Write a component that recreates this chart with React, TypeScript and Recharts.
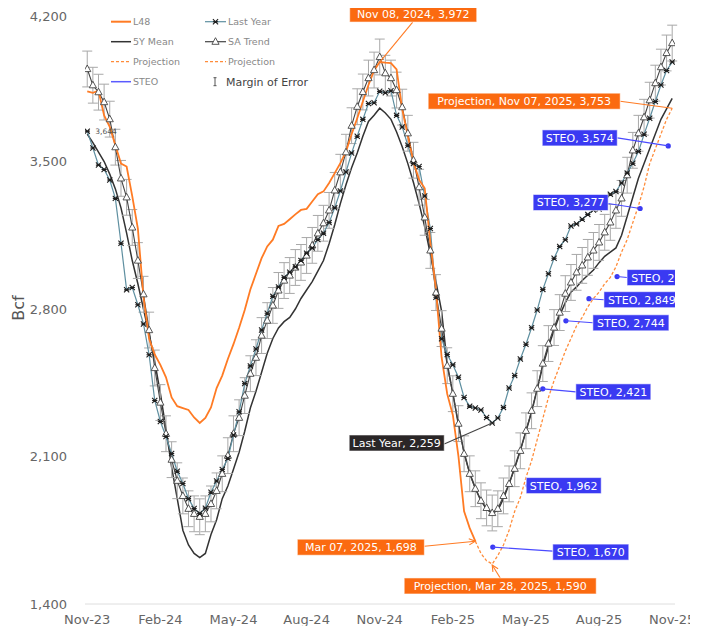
import { ComposedChart, Line, XAxis, YAxis, ErrorBar, Scatter, ReferenceDot } from "recharts";

// x is a week index: 0 = week ending Nov 10, 2023, 104 = week ending Nov 7, 2025
const weekTicks = [0, 13, 26, 39, 52, 65, 78, 91, 104];
const weekTickLabels = ["Nov-23", "Feb-24", "May-24", "Aug-24", "Nov-24", "Feb-25", "May-25", "Aug-25", "Nov-25"];
const bcfTicks = [1400, 2100, 2800, 3500, 4200];

// Lower 48 working gas, weeks 0..69 (ends Mar 07, 2025)
const l48 = [
  3833, 3826, 3836, 3719, 3664, 3577, 3490, 3476, 3336, 3182,
  2856, 2659, 2584, 2535, 2476, 2380, 2339, 2330, 2321, 2285,
  2259, 2283, 2333, 2425, 2484, 2563, 2633, 2711, 2795, 2893,
  2967, 3041, 3097, 3129, 3194, 3204, 3226, 3249, 3270, 3275,
  3310, 3345, 3358, 3398, 3445, 3492, 3547, 3629, 3705, 3785,
  3863, 3932, 3972, 3969, 3967, 3937, 3747, 3622, 3497, 3413,
  3373, 3115, 2892, 2571, 2397, 2297, 2101, 1840, 1760, 1698,
];

const lastYear = [
  3644, 3564, 3483, 3462, 3412, 3325, 3112, 2891, 2902, 2820,
  2729, 2583, 2366, 2266, 2195, 2114, 2030, 1972, 1900, 1853,
  1830, 1855, 1930, 1984, 2038, 2092, 2202, 2312, 2446, 2530,
  2610, 2700, 2780, 2860, 2905, 2950, 2975, 3000, 3030, 3065,
  3090, 3130, 3160, 3210, 3280, 3360, 3450, 3540, 3620, 3700,
  3775, 3779, 3833, 3826, 3836, 3719, 3664, 3577, 3490, 3476,
  3336, 3182, 2856, 2659, 2584, 2535, 2476, 2380, 2339, 2330,
  2321, 2285, 2259, 2283, 2333, 2425, 2484, 2563, 2633, 2711,
  2795, 2893, 2967, 3041, 3097, 3129, 3194, 3204, 3226, 3249,
  3270, 3275, 3310, 3345, 3358, 3398, 3445, 3492, 3547, 3629,
  3705, 3785, 3863, 3932, 3972,
];

const fiveYearMean = [
  3630, 3590, 3545, 3500, 3440, 3370, 3280, 3160, 3030, 2920,
  2800, 2680, 2550, 2400, 2230, 2050, 1900, 1750, 1680, 1640,
  1620, 1640, 1730, 1800, 1900, 1960, 2040, 2120, 2220, 2330,
  2410, 2500, 2590, 2660, 2710, 2740, 2760, 2800, 2850, 2890,
  2930, 2980, 3030, 3110, 3200, 3300, 3390, 3470, 3540, 3620,
  3690, 3720, 3753, 3730, 3700, 3640, 3570, 3490, 3400, 3300,
  3190, 3060, 2930, 2790, 2540, 2400, 2250, 2120, 2020, 1950,
  1890, 1850, 1830, 1845, 1900, 1970, 2050, 2130, 2220, 2310,
  2420, 2530, 2620, 2700, 2770, 2830, 2880, 2905, 2935, 2960,
  2985, 3020, 3050, 3070, 3090, 3150, 3240, 3330, 3420, 3490,
  3560, 3630, 3700, 3750, 3800,
];

const saTrend = [
  3939, 3862, 3829, 3782, 3701, 3568, 3420, 3330, 3187, 3030,
  2870, 2700, 2520, 2356, 2208, 2085, 1985, 1913, 1852, 1828,
  1814, 1828, 1875, 1937, 2018, 2104, 2208, 2284, 2389, 2493,
  2569, 2674, 2745, 2817, 2888, 2935, 2959, 2997, 3021, 3054,
  3102, 3159, 3207, 3268, 3363, 3449, 3544, 3670, 3760, 3830,
  3896, 3934, 3996, 3919, 3896, 3839, 3758, 3634, 3506, 3378,
  3235, 3078, 2878, 2707, 2531, 2398, 2256, 2113, 2018, 1947,
  1890, 1856, 1832, 1852, 1913, 1970, 2042, 2127, 2222, 2317,
  2422, 2541, 2636, 2712, 2783, 2873, 2926, 2974, 3007, 3045,
  3078, 3116, 3164, 3211, 3268, 3325, 3435, 3553, 3634, 3710,
  3791, 3872, 3948, 4015, 4062,
];
const saMargin = 85;

// Projection, weeks 69..104 (Mar 07, 2025 .. Nov 07, 2025)
const projectionStart = 69;
const projection = [
  1698, 1640, 1605, 1590, 1630, 1680, 1750, 1840, 1905, 2000,
  2080, 2180, 2280, 2380, 2460, 2530, 2600, 2660, 2720, 2760,
  2810, 2850, 2880, 2920, 2950, 3000, 3070, 3130, 3210, 3290,
  3380, 3490, 3560, 3630, 3700, 3753,
];

const steoWeeks = [72.1, 78.4, 81, 85.1, 89.2, 94.2, 98.3, 103.3];
const steoValues = [1670, 1962, 2421, 2744, 2849, 2954, 3277, 3574];

const ORANGE = "#ff7b24";
const BOX_ORANGE = "#fb6a10";
const BLUE = "#3a3af2";
const TEAL = "#5e8fa0";

type Layout = { dx: number; dy: number; w: number; ax?: number; ay?: number; arrow?: boolean };

// label boxes, offsets from the point they describe
const steoLayout: Layout[] = [
  { dx: 60, dy: -3, w: 76, ax: 0, ay: 7 },
  { dx: -2, dy: -8, w: 75 },
  { dx: 33, dy: -5, w: 75, ax: 0, ay: 8 },
  { dx: 27, dy: -6, w: 76, ax: 0, ay: 8 },
  { dx: 15, dy: -7, w: 76, ax: 0, ay: 8 },
  { dx: 10, dy: -7, w: 76, ax: 0, ay: 8 },
  { dx: -107, dy: -14, w: 75, ax: 75, ay: 9 },
  { dx: -126, dy: -16, w: 75, ax: 75, ay: 8 },
];

const fmt = (v: number) => v.toLocaleString("en-US");
const series = (values: number[], start = 0) => values.map((v, k) => ({ i: start + k, v }));

const l48Data = series(l48);
const lastYearData = series(lastYear);
const fiveYearData = series(fiveYearMean);
const saData = saTrend.map((v, k) => ({ i: k, v, e: saMargin }));
const projectionData = series(projection, projectionStart);
const steoData = steoWeeks.map((w, k) => ({ i: w, v: steoValues[k], k }));

function Callout({ cx, cy, text, fill, line, layout }: {
  cx: number; cy: number; text: string; fill: string; line: string; layout: Layout;
}) {
  const h = 16;
  const bx = cx + layout.dx;
  const by = cy + layout.dy;
  const hasLeader = layout.ax !== undefined;
  const sx = bx + (layout.ax ?? 0);
  const sy = by + (layout.ay ?? 0);
  let head = null;
  if (layout.arrow) {
    const a = Math.atan2(cy - sy, cx - sx);
    const l = 7;
    const p1 = [cx - l * Math.cos(a - 0.45), cy - l * Math.sin(a - 0.45)];
    const p2 = [cx - l * Math.cos(a + 0.45), cy - l * Math.sin(a + 0.45)];
    head = <path d={`M${p1[0]},${p1[1]}L${cx},${cy}L${p2[0]},${p2[1]}`} fill="none" stroke={line} strokeWidth={1.1} />;
  }
  return (
    <g>
      {hasLeader && <line x1={sx} y1={sy} x2={cx} y2={cy} stroke={line} strokeWidth={1.1} />}
      {head}
      <rect x={bx} y={by} width={layout.w} height={h} fill={fill} stroke="rgba(255,255,255,0.55)" strokeWidth={1} />
      <text x={bx + layout.w / 2} y={by + h / 2} dy="0.36em" textAnchor="middle" fill="#fff" fontSize={11}>
        {text}
      </text>
    </g>
  );
}

function LastYearMark(props: any) {
  const { cx, cy, index } = props;
  if (cx == null || cy == null) return <g key={`ly${index}`} />;
  const s = 2.6;
  return (
    <path
      key={`ly${index}`}
      d={`M${cx - s},${cy - s}L${cx + s},${cy + s}M${cx - s},${cy + s}L${cx + s},${cy - s}M${cx - s},${cy}L${cx + s},${cy}`}
      stroke="#1e1e1e"
      strokeWidth={1.1}
      fill="none"
    />
  );
}

function TriangleMark(props: any) {
  const { cx, cy, index } = props;
  if (cx == null || cy == null) return <g key={`sa${index}`} />;
  return (
    <path
      key={`sa${index}`}
      d={`M${cx},${cy - 4}L${cx + 3.6},${cy + 2.6}L${cx - 3.6},${cy + 2.6}Z`}
      fill="#fff"
      stroke="#444"
      strokeWidth={0.9}
    />
  );
}

function SteoShape(props: any) {
  const { cx, cy, payload } = props;
  const k = payload.k;
  return (
    <g>
      <circle cx={cx} cy={cy} r={2.6} fill={BLUE} />
      <Callout cx={cx} cy={cy} text={`STEO, ${fmt(steoValues[k])}`} fill={BLUE} line="#4a4aff" layout={steoLayout[k]} />
    </g>
  );
}

function LegendOverlay() {
  const rows = [13.7, 33.7, 53.7, 73.7];
  const c1 = 103;
  const c2 = 197;
  const txt = { fontSize: 9.5, fill: "#888" } as const;
  return (
    <svg width={696} height={618} style={{ position: "absolute", left: 0, top: 0, pointerEvents: "none" }}>
      <text x={10} y={300} transform="rotate(-90 10 300)" textAnchor="middle" dy="0.36em" fontSize={16} fill="#555">
        Bcf
      </text>
      <line x1={c1} x2={c1 + 20} y1={rows[0]} y2={rows[0]} stroke={ORANGE} strokeWidth={2} />
      <text x={c1 + 22} y={rows[0]} dy="0.36em" {...txt}>L48</text>
      <line x1={c1} x2={c1 + 20} y1={rows[1]} y2={rows[1]} stroke="#333" strokeWidth={1.5} />
      <text x={c1 + 22} y={rows[1]} dy="0.36em" {...txt}>5Y Mean</text>
      <line x1={c1} x2={c1 + 20} y1={rows[2]} y2={rows[2]} stroke="#ff8c3a" strokeWidth={1.3} strokeDasharray="3 2" />
      <text x={c1 + 22} y={rows[2]} dy="0.36em" {...txt}>Projection</text>
      <line x1={c1} x2={c1 + 20} y1={rows[3]} y2={rows[3]} stroke="#5b5bff" strokeWidth={1.5} />
      <text x={c1 + 22} y={rows[3]} dy="0.36em" {...txt}>STEO</text>

      <line x1={c2} x2={c2 + 21} y1={rows[0]} y2={rows[0]} stroke={TEAL} strokeWidth={1.2} />
      <LastYearMark cx={c2 + 10.5} cy={rows[0]} index="legend" />
      <text x={c2 + 23} y={rows[0]} dy="0.36em" {...txt}>Last Year</text>
      <line x1={c2} x2={c2 + 21} y1={rows[1]} y2={rows[1]} stroke="#444" strokeWidth={1.2} />
      <TriangleMark cx={c2 + 10.5} cy={rows[1]} index="legend" />
      <text x={c2 + 23} y={rows[1]} dy="0.36em" {...txt}>SA Trend</text>
      <line x1={c2} x2={c2 + 21} y1={rows[2]} y2={rows[2]} stroke="#ff8c3a" strokeWidth={1.3} strokeDasharray="3 2" />
      <text x={c2 + 23} y={rows[2]} dy="0.36em" {...txt}>Projection</text>
      <path d={`M${c2 + 10},${rows[3] - 4}V${rows[3] + 4}M${c2 + 8.5},${rows[3] - 4}H${c2 + 11.5}M${c2 + 8.5},${rows[3] + 4}H${c2 + 11.5}`} stroke="#555" strokeWidth={1} />
      <text x={c2 + 21} y={rows[3]} dy="0.36em" fontSize={11} fill="#444">Margin of Error</text>
    </svg>
  );
}

export default function App() {
  return (
    <div style={{ position: "relative", width: 682, height: 618, overflow: "hidden", fontFamily: '"DejaVu Sans", Verdana, sans-serif' }}>
      <style>{"html,body{overflow:hidden}"}</style>
      <ComposedChart width={696} height={620} margin={{ top: 6, right: 29, left: 0, bottom: 2 }}>
        <XAxis
          type="number"
          dataKey="i"
          domain={[-0.4, 104.5]}
          ticks={weekTicks}
          tickFormatter={(v: number) => weekTickLabels[weekTicks.indexOf(v)] ?? ""}
          height={22}
          tickLine={false}
          tickSize={0}
          tickMargin={11}
          axisLine={{ stroke: "#dedede" }}
          tick={{ fill: "#666", fontSize: 13 }}
          allowDataOverflow
        />
        <YAxis
          type="number"
          domain={[1400, 4200]}
          ticks={bcfTicks}
          tickFormatter={fmt}
          width={77}
          tickLine={false}
          axisLine={false}
          tickSize={0}
          tickMargin={18}
          tick={{ fill: "#666", fontSize: 13 }}
          allowDataOverflow
        />
        <Line data={fiveYearData} dataKey="v" type="linear" stroke="#333" strokeWidth={1.5} dot={false} activeDot={false} isAnimationActive={false} />
        <Line data={saData} dataKey="v" type="linear" stroke="#444" strokeWidth={1.1} dot={TriangleMark} activeDot={false} isAnimationActive={false}>
          <ErrorBar dataKey="e" width={5} stroke="#a8a8a8" strokeWidth={1} direction="y" isAnimationActive={false} />
        </Line>
        <Line data={lastYearData} dataKey="v" type="linear" stroke={TEAL} strokeWidth={1.2} dot={LastYearMark} activeDot={false} isAnimationActive={false} />
        <Line data={projectionData} dataKey="v" type="linear" stroke="#ff8c3a" strokeWidth={1.3} strokeDasharray="3 2" dot={false} activeDot={false} isAnimationActive={false} />
        <Line data={l48Data} dataKey="v" type="linear" stroke={ORANGE} strokeWidth={1.8} dot={false} activeDot={false} isAnimationActive={false} />
        <Scatter data={steoData} dataKey="v" shape={SteoShape} isAnimationActive={false} />

        <ReferenceDot
          x={0}
          y={lastYear[0]}
          shape={(p: any) => (
            <text x={p.cx + 8} y={p.cy + 2.5} fontSize={7.5} fill="#555">{fmt(lastYear[0])}</text>
          )}
        />
        <ReferenceDot
          x={52}
          y={l48[52]}
          shape={(p: any) => (
            <Callout cx={p.cx} cy={p.cy} text={`Nov 08, 2024, ${fmt(l48[52])}`} fill={BOX_ORANGE} line={ORANGE} layout={{ dx: -30, dy: -56, w: 127, ax: 63, ay: 16 }} />
          )}
        />
        <ReferenceDot
          x={104}
          y={projection[projection.length - 1]}
          shape={(p: any) => (
            <Callout cx={p.cx} cy={p.cy} text={`Projection, Nov 07, 2025, ${fmt(projection[projection.length - 1])}`} fill={BOX_ORANGE} line={ORANGE} layout={{ dx: -244, dy: -15, w: 192, ax: 192, ay: 8 }} />
          )}
        />
        <ReferenceDot
          x={72}
          y={lastYear[72]}
          shape={(p: any) => (
            <Callout cx={p.cx} cy={p.cy} text={`Last Year, ${fmt(lastYear[72])}`} fill="#2a2627" line="#444" layout={{ dx: -143, dy: 12, w: 95, ax: 95, ay: 9 }} />
          )}
        />
        <ReferenceDot
          x={69}
          y={l48[69]}
          shape={(p: any) => (
            <Callout cx={p.cx} cy={p.cy} text={`Mar 07, 2025, ${fmt(l48[69])}`} fill={BOX_ORANGE} line={ORANGE} layout={{ dx: -178, dy: -2, w: 127, ax: 127, ay: 7, arrow: true }} />
          )}
        />
        <ReferenceDot
          x={72}
          y={projection[72 - projectionStart]}
          shape={(p: any) => (
            <Callout cx={p.cx} cy={p.cy + 1} text={`Projection, Mar 28, 2025, ${fmt(projection[72 - projectionStart])}`} fill={BOX_ORANGE} line={ORANGE} layout={{ dx: -88, dy: 13, w: 192, ax: 96, ay: 0, arrow: true }} />
          )}
        />
      </ComposedChart>
      <LegendOverlay />
    </div>
  );
}
